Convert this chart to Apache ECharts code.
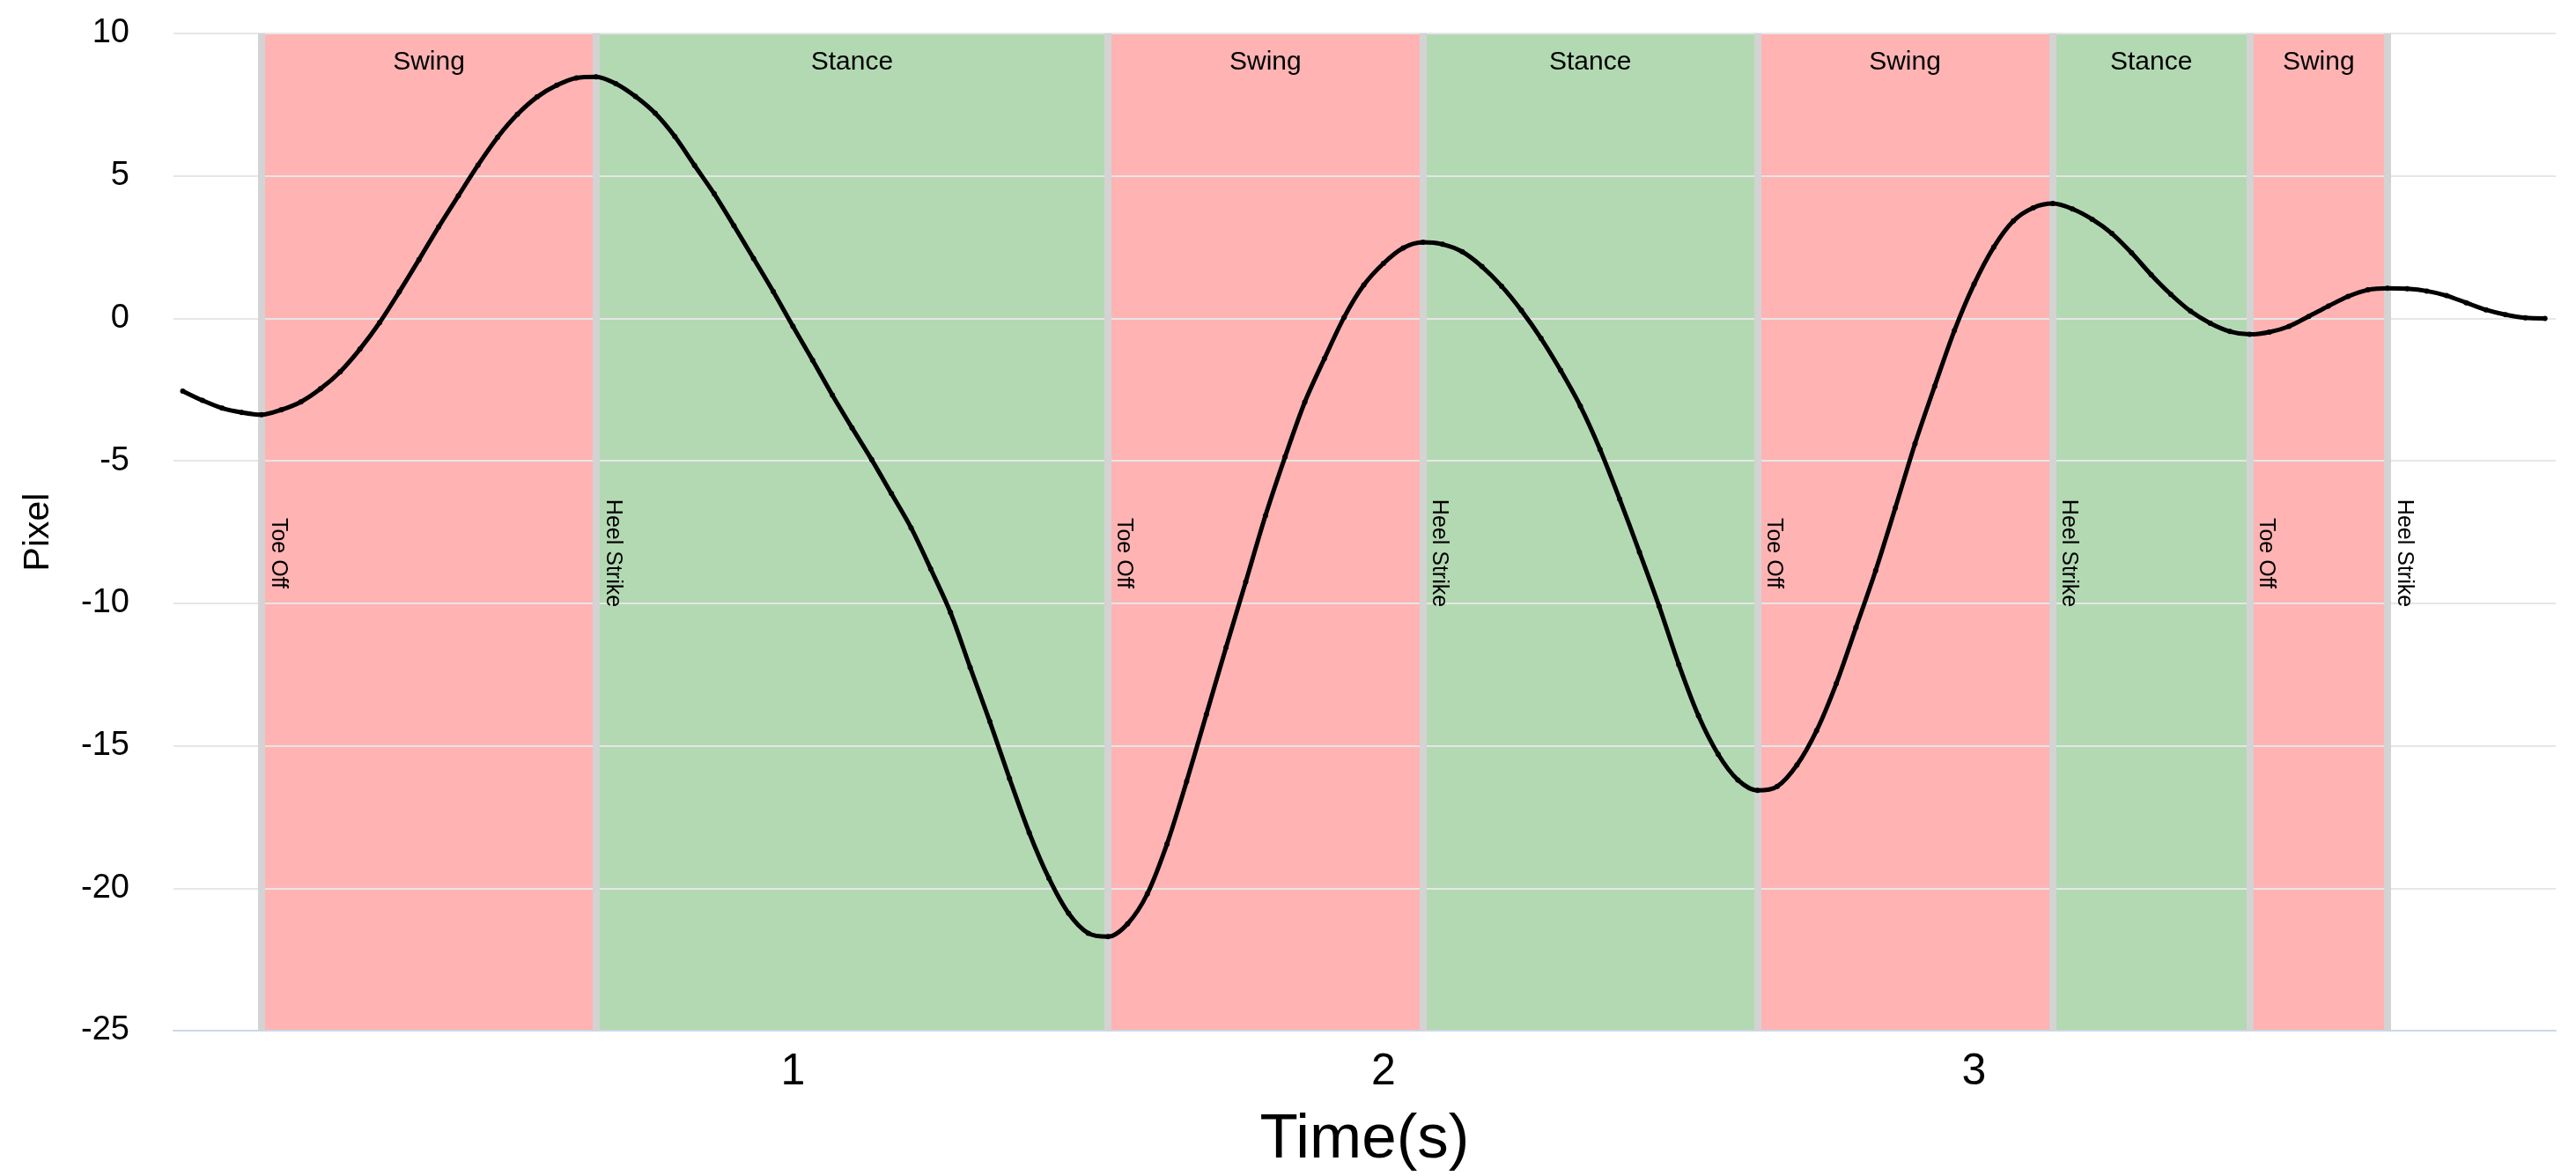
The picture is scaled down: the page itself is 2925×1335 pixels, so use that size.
<!DOCTYPE html>
<html>
<head>
<meta charset="utf-8">
<script src="https://cdn.jsdelivr.net/npm/echarts@6/dist/echarts.min.js"></script>
<style>
  html, body { margin: 0; padding: 0; background: #fff; }
  #chart { width: 2925px; height: 1335px; }
</style>
</head>
<body>
<div id="chart"></div>
<script>
// ---- data ----
const FPS = 30;            // video frame rate of the samples
const firstFrame = -1;     // frame index of the first sample
const pixelValues = [
  -2.55, -2.88, -3.15, -3.30, -3.38, -3.21, -2.93, -2.47, -1.87, -1.08,
  -0.15, 0.93, 2.06, 3.21, 4.30, 5.38, 6.36, 7.16, 7.77, 8.18,
  8.44, 8.48, 8.24, 7.79, 7.20, 6.38, 5.37, 4.37, 3.25, 2.10,
  0.94, -0.28, -1.47, -2.69, -3.84, -4.96, -6.15, -7.35, -8.80, -10.32,
  -12.25, -14.15, -16.15, -18.05, -19.65, -20.88, -21.58, -21.70, -21.25, -20.20,
  -18.45, -16.25, -13.90, -11.55, -9.25, -6.93, -4.86, -2.94, -1.41, 0.04,
  1.17, 1.93, 2.47, 2.67, 2.60, 2.34, 1.82, 1.13, 0.28, -0.70,
  -1.83, -3.08, -4.60, -6.35, -8.20, -10.10, -12.15, -13.95, -15.30, -16.20,
  -16.57, -16.43, -15.68, -14.47, -12.82, -10.85, -8.85, -6.65, -4.40, -2.38,
  -0.43, 1.20, 2.50, 3.42, 3.88, 4.03, 3.84, 3.48, 2.98, 2.30,
  1.53, 0.84, 0.25, -0.17, -0.46, -0.56, -0.48, -0.28, 0.07, 0.43,
  0.77, 1.00, 1.06, 1.04, 0.96, 0.80, 0.55, 0.30, 0.13, 0.02,
  0.00
];
const eventTimes = [0.1, 0.667, 1.533, 2.067, 2.633, 3.133, 3.467, 3.7];
const eventNames = ['Toe Off', 'Heel Strike', 'Toe Off', 'Heel Strike', 'Toe Off', 'Heel Strike', 'Toe Off', 'Heel Strike'];
const phaseNames = ['Swing', 'Stance', 'Swing', 'Stance', 'Swing', 'Stance', 'Swing'];
const xTickLabels = [1, 2, 3];
const yTicks = { min: -25, max: 10, step: 5 };

// ---- styles ----
const FONT = 'Liberation Sans, Arial, Helvetica, sans-serif';
const phaseColors = { Swing: '#ffb3b3', Stance: '#b3d9b3' };

const seriesData = pixelValues.map((v, i) => [(firstFrame + i) / FPS, v]);

const bands = phaseNames.map((name, i) => [
  { name: name, xAxis: eventTimes[i], itemStyle: { color: phaseColors[name] } },
  { xAxis: eventTimes[i + 1] }
]);

const eventLines = eventNames.map((name, i) => [
  { name: name, coord: [eventTimes[i], yTicks.max] },
  { coord: [eventTimes[i], yTicks.min] }
]);

const chart = echarts.init(document.getElementById('chart'), null, { renderer: 'canvas' });
chart.setOption({
  backgroundColor: '#ffffff',
  animation: false,
  textStyle: { fontFamily: FONT },
  grid: { left: 197, right: 23, top: 38, bottom: 165, containLabel: false },
  xAxis: {
    type: 'value',
    min: -0.049,
    max: 3.985,
    splitNumber: 4,
    z: 2,
    axisLine: { show: true, onZero: false, lineStyle: { color: '#ccd6eb', width: 2 } },
    axisTick: { show: false },
    splitLine: { show: false },
    axisLabel: {
      customValues: xTickLabels,
      fontSize: 50,
      color: '#000',
      margin: 22,
      fontFamily: FONT
    },
    name: 'Time(s)',
    nameLocation: 'middle',
    nameGap: 89,
    nameTextStyle: { fontSize: 71, color: '#000', fontFamily: FONT }
  },
  yAxis: {
    type: 'value',
    min: yTicks.min,
    max: yTicks.max,
    interval: yTicks.step,
    z: 2,
    axisLine: { show: false },
    axisTick: { show: false },
    splitLine: { show: true, lineStyle: { color: '#e6e6e6', width: 2 } },
    axisLabel: { fontSize: 38, color: '#000', margin: 50, fontFamily: FONT },
    name: 'Pixel',
    nameLocation: 'middle',
    nameGap: 133,
    nameTextStyle: { fontSize: 41, color: '#000', fontFamily: FONT }
  },
  series: [
    {
      name: 'phases',
      type: 'line',
      data: seriesData,
      showSymbol: false,
      silent: true,
      z: 1,
      lineStyle: { width: 0, opacity: 0 },
      markArea: {
        silent: true,
        z: 1,
        label: {
          show: true,
          position: 'insideTop',
          distance: 18,
          fontSize: 30,
          color: '#000',
          fontFamily: FONT
        },
        data: bands
      },
      markLine: {
        silent: true,
        z: 3,
        symbol: ['none', 'none'],
        lineStyle: { color: '#d3d3d3', width: 8, type: 'solid', opacity: 1 },
        label: {
          show: true,
          position: 'insideMiddleTop',
          formatter: '{b}',
          fontSize: 25,
          color: '#000',
          distance: 6,
          padding: [0, 0, 0, 48],
          fontFamily: FONT
        },
        emphasis: { disabled: true },
        data: eventLines
      }
    },
    {
      name: 'Pixel',
      type: 'line',
      data: seriesData,
      z: 5,
      smooth: 0.3,
      symbol: 'circle',
      symbolSize: 6,
      showSymbol: true,
      itemStyle: { color: '#000' },
      lineStyle: { color: '#000', width: 5 }
    }
  ]
});
</script>
</body>
</html>
